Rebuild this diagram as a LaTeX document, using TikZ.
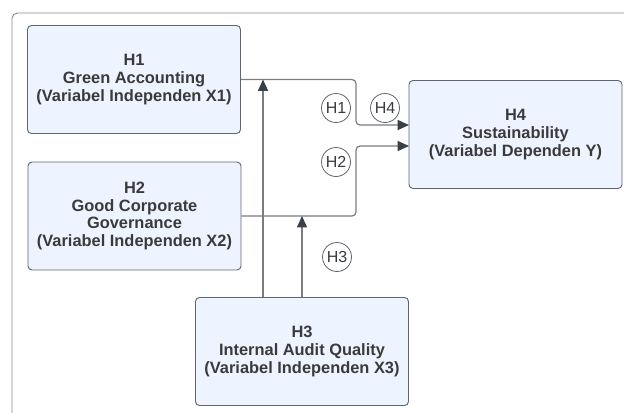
\documentclass[tikz,border=0pt]{standalone}
\usepackage{fontspec}
\setmainfont{Liberation Sans}
\usetikzlibrary{arrows.meta}
\definecolor{boxfill}{HTML}{EDF4FF}
\definecolor{boxline}{HTML}{5E6670}
\definecolor{linkgray}{HTML}{7C7C7C}
\definecolor{tipgray}{HTML}{3A4049}
\definecolor{textgray}{HTML}{3A3A3A}
\definecolor{framegray}{HTML}{8A8A8A}

\begin{document}
\begin{tikzpicture}[x=0.75pt, y=-0.75pt,
		varbox/.style={
			draw=boxline,
			fill=boxfill,
			rounded corners=3pt,
			line width=0.7pt,
			minimum width=159.75pt,
			minimum height=81pt,
			inner sep=0pt,
			align=center,
			text=textgray,
			font=\fontsize{12.3}{13.4}\selectfont\bfseries
		},
		link/.style={draw=linkgray, line width=0.9pt, rounded corners=3pt, -{Triangle[length=8.5pt, width=7.5pt, color=tipgray]}},
		hyp/.style={circle, draw=boxline, line width=0.6pt, minimum size=21.75pt, inner sep=0pt, text=textgray, font=\fontsize{12}{12}\selectfont}]
		\useasboundingbox (0,0) rectangle (624,412);
		\draw[framegray, line width=0.7pt, rounded corners=4pt] (640,13) -- (12,13) -- (12,430);
		
		\node[varbox] (h1) at (134,79.5) {H1\\Green Accounting\\(Variabel Independen X1)};
		\node[varbox] (h2) at (134.5,216) {H2\\Good Corporate\\Governance\\(Variabel Independen X2)};
		\node[varbox] (h4) at (515.5,134.5) {H4\\Sustainability\\(Variabel Dependen Y)};
		\node[varbox] (h3) at (302,351.5) {H3\\Internal Audit Quality\\(Variabel Independen X3)};
		
		\coordinate (bend) at (356,0);
		\coordinate (in1) at (409,125);
		\coordinate (in2) at (409,146);
		\coordinate (up1) at (263,0);
		
		\draw[link] (h1.east) -- (h1.east -| bend) -- (bend |- in1) -- (in1);
		\draw[link] (h2.east) -- (h2.east -| bend) -- (bend |- in2) -- (in2);
		\draw[link] (h3.north -| up1) -- (h1.east -| up1);
		\draw[link] (h3.north) -- (h3.north |- h2.east);
		
		\node[hyp] (c1) at (336,108) {H1};
		\node[hyp] (c4) at (385,108) {H4};
		\node[hyp] (c2) at (336,162) {H2};
		\node[hyp] (c3) at (337,257) {H3};
	\end{tikzpicture}
\end{document}
